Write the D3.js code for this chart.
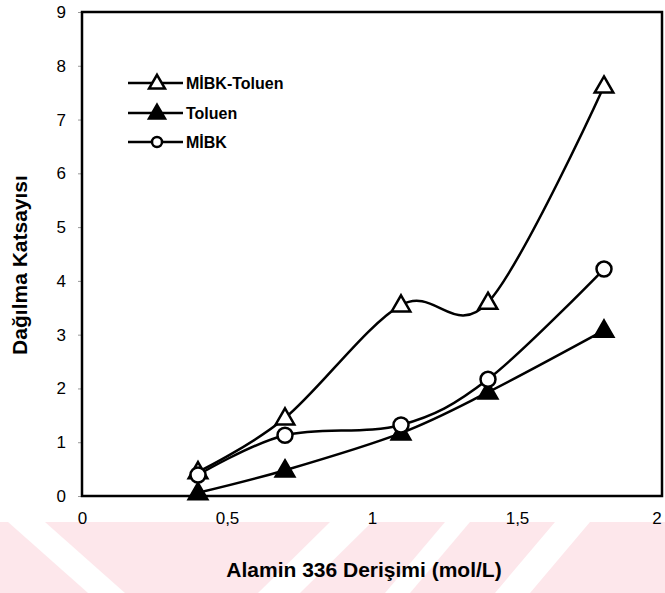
<!DOCTYPE html>
<html>
<head>
<meta charset="utf-8">
<script src="https://cdn.jsdelivr.net/npm/d3@7"></script>
<style>
  html, body { margin: 0; padding: 0; background: #fff; }
  svg { display: block; font-family: "Liberation Sans", Arial, sans-serif; }
</style>
</head>
<body>
<svg id="chart" width="665" height="593"></svg>
<script>
// Alamin 336 concentration (mol/L)
const concentrations = [0.4, 0.7, 1.1, 1.4, 1.8];
// Distribution coefficient per diluent
const mibkToluenValues = [0.45, 1.45, 3.55, 3.6, 7.62];
const toluenValues = [0.06, 0.48, 1.17, 1.93, 3.08];
const mibkValues = [0.39, 1.13, 1.32, 2.17, 4.22];

const seriesNames = ["MİBK-Toluen", "Toluen", "MİBK"];
const xTickValues = [0, 0.5, 1, 1.5, 2];
const xTickLabels = ["0", "0,5", "1", "1,5", "2"];
const yTickValues = [0, 1, 2, 3, 4, 5, 6, 7, 8, 9];

const xTitle = "Alamin 336 Derişimi (mol/L)";
const yTitle = "Dağılma Katsayısı";

const W = 665, H = 593;
const plot = { left: 82, right: 662, top: 12, bottom: 496 };

const svg = d3.select("#chart");

// faint pink background band along the bottom edge
const band = svg.append("g").attr("class", "band");
band.append("rect").attr("x", 0).attr("y", 522).attr("width", W).attr("height", H - 522)
  .attr("fill", "#fde7eb");
const gaps = [
  [[8, 522], [45, 522], [125, 593], [88, 593]],
  [[330, 522], [372, 522], [300, 593], [258, 593]],
  [[445, 522], [470, 522], [410, 593], [385, 593]],
  [[555, 522], [590, 522], [530, 593], [495, 593]]
];
band.selectAll("polygon").data(gaps).join("polygon")
  .attr("points", d => d.map(p => p.join(",")).join(" "))
  .attr("fill", "#fff");

const x = d3.scaleLinear().domain([0, 2]).range([plot.left, plot.right]);
const y = d3.scaleLinear().domain([0, 9]).range([plot.bottom, plot.top]);

// y axis: short outer ticks, labels to the left
const yAxis = d3.axisLeft(y).tickValues(yTickValues).tickSize(4).tickPadding(12)
  .tickFormat(d3.format("d"));
const gy = svg.append("g").attr("transform", `translate(${plot.left},0)`).call(yAxis);
gy.select(".domain").remove();
gy.selectAll(".tick line").attr("stroke", "#999").attr("stroke-width", 1);
gy.selectAll(".tick text").attr("font-size", 17).attr("fill", "#000")
  .attr("font-family", "'Liberation Sans', Arial, sans-serif");

// x axis: labels only
const xAxis = d3.axisBottom(x).tickValues(xTickValues).tickSize(0).tickPadding(0)
  .tickFormat((d, i) => xTickLabels[i]);
const gx = svg.append("g").attr("transform", `translate(0,${plot.bottom + 16})`).call(xAxis);
gx.select(".domain").remove();
gx.selectAll(".tick text").attr("font-size", 17).attr("fill", "#000")
  .attr("font-family", "'Liberation Sans', Arial, sans-serif");
// keep the last label inside the canvas
gx.selectAll(".tick text").filter(d => d === xTickValues[xTickValues.length - 1])
  .attr("text-anchor", "end").attr("dx", "-0.05em");

// plot frame
svg.append("rect")
  .attr("x", plot.left).attr("y", plot.top)
  .attr("width", plot.right - plot.left).attr("height", plot.bottom - plot.top)
  .attr("fill", "none").attr("stroke", "#000").attr("stroke-width", 2.5);

// axis titles
svg.append("text").attr("x", 364).attr("y", 577).attr("text-anchor", "middle")
  .attr("font-size", 21).attr("font-weight", "bold").text(xTitle);
svg.append("text").attr("transform", "translate(27,265) rotate(-90)")
  .attr("text-anchor", "middle").attr("font-size", 21).attr("font-weight", "bold").text(yTitle);

const series = [
  { name: seriesNames[0], values: mibkToluenValues, marker: "triangle", fill: "#fff" },
  { name: seriesNames[1], values: toluenValues, marker: "triangle", fill: "#000" },
  { name: seriesNames[2], values: mibkValues, marker: "circle", fill: "#fff" }
];

const line = d3.line()
  .x((d, i) => x(concentrations[i]))
  .y(d => y(d))
  .curve(d3.curveCardinal.tension(0));

const triSym = s => d3.symbol(d3.symbolTriangle, s);

function drawMarker(g, kind, fill, big) {
  if (kind === "circle") {
    g.append("circle").attr("r", big ? 7.5 : 5)
      .attr("fill", fill).attr("stroke", "#000").attr("stroke-width", 2.5);
  } else {
    g.append("path").attr("d", triSym(big ? 150 : 110)())
      .attr("transform", "translate(0,1)")
      .attr("fill", fill).attr("stroke", "#000").attr("stroke-width", 2.5)
      .attr("stroke-linejoin", "miter");
  }
}

// draw lines first, then markers on top
const gLines = svg.append("g");
series.forEach(s => {
  gLines.append("path").datum(s.values).attr("d", line)
    .attr("fill", "none").attr("stroke", "#000").attr("stroke-width", 2.5);
});
const gMarks = svg.append("g");
[series[1], series[0], series[2]].forEach(s => {
  s.values.forEach((v, i) => {
    const g = gMarks.append("g").attr("transform", `translate(${x(concentrations[i])},${y(v)})`);
    drawMarker(g, s.marker, s.fill, true);
  });
});

// legend
const legend = svg.append("g");
const rowY = [83, 113, 142];
series.forEach((s, i) => {
  const g = legend.append("g").attr("transform", `translate(0,${rowY[i]})`);
  g.append("line").attr("x1", 128).attr("x2", 183).attr("y1", 0).attr("y2", 0)
    .attr("stroke", "#000").attr("stroke-width", 2.5);
  const m = g.append("g").attr("transform", "translate(157,0)");
  drawMarker(m, s.marker, s.fill, false);
  g.append("text").attr("x", 186).attr("y", 0).attr("dy", "0.36em")
    .attr("font-size", 16).attr("font-weight", "bold").text(s.name);
});
</script>
</body>
</html>
